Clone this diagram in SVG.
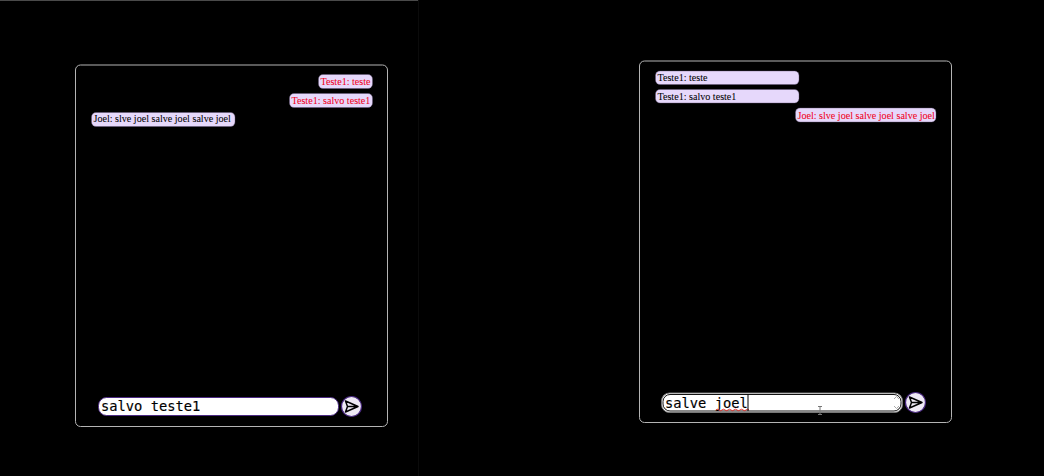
<svg xmlns="http://www.w3.org/2000/svg" width="1044" height="476" viewBox="0 0 1044 476">
<style>
.panel{fill:#000;stroke:#b4b4b4;stroke-width:1}
.bub{fill:#e6d8fb;stroke:#5f5075;stroke-width:.4}
.msg{font-family:"Liberation Serif",serif;font-size:10.1px;stroke-width:.05}
.in{fill:#000;stroke:#000}
.out{fill:#f00020;stroke:#f00020}
.mono{font-family:"DejaVu Sans Mono",monospace;font-size:13.75px;fill:#000;stroke:#000;stroke-width:.15}
.btn{fill:#efeaf5;stroke:#4b2a82;stroke-width:1.2}
.plane{fill:none;stroke:#000;stroke-width:1.5;stroke-linejoin:round}
</style>
<rect width="1044" height="476" fill="#000"/>
<rect x="0" y="0" width="418" height="1" fill="#4a4a4a"/>
<rect x="418" y="0" width="1" height="476" fill="#0b0b0b"/>
<g id="chat-left">
<rect class="panel" x="75.500" y="65" width="312" height="361.500" rx="5"/>
<g id="left-msg-1"><rect class="bub" x="318.500" y="74.500" width="54" height="14" rx="4.500"/><text class="msg out" x="320.500" y="85">Teste1: teste</text></g>
<g id="left-msg-2"><rect class="bub" x="289.500" y="93.500" width="83" height="14" rx="4.500"/><text class="msg out" x="291.500" y="104">Teste1: salvo teste1</text></g>
<g id="left-msg-3"><rect class="bub" x="91.500" y="112.500" width="143.500" height="14" rx="4.500"/><text class="msg in" x="93.500" y="122">Joel: slve joel salve joel salve joel</text></g>
<g id="left-input"><rect x="98.500" y="397.500" width="240" height="18" rx="8" fill="#fff" stroke="#4b2a82" stroke-width="1"/><text class="mono" x="101" y="411">salvo teste1</text></g>
<g id="left-send"><circle class="btn" cx="351.500" cy="406.500" r="10"/><path class="plane" d="M345.500 401 L358 406.500 L345.500 412 L347.500 406.500 Z M347.500 406.500 H358"/></g>
</g>
<g id="chat-right">
<rect class="panel" x="639.500" y="61" width="312" height="361.500" rx="5"/>
<g id="right-msg-1"><rect class="bub" x="655.500" y="71" width="143.500" height="13.500" rx="4.500"/><text class="msg in" x="657.500" y="81">Teste1: teste</text></g>
<g id="right-msg-2"><rect class="bub" x="655.500" y="89.500" width="143.500" height="13.500" rx="4.500"/><text class="msg in" x="657.500" y="100">Teste1: salvo teste1</text></g>
<g id="right-msg-3"><rect class="bub" x="795.500" y="108" width="140.500" height="14" rx="4.500"/><text class="msg out" x="797.500" y="119">Joel: slve joel salve joel salve joel</text></g>
<g id="right-input">
<rect x="661.500" y="393" width="241" height="19.500" rx="8" fill="#fff" stroke="#777" stroke-width="1"/>
<rect x="663" y="394.500" width="238" height="16.500" rx="7" fill="#fff" stroke="#111" stroke-width="1"/>
<text class="mono" x="665" y="408">salve joel</text>
<path d="M716 410 q1.500 -1.500 3 0 t3 0 t3 0 t3 0 t3 0 t3 0 t3 0 t3 0 t3 0 t3 0 t3 0" fill="none" stroke="#e0302a" stroke-width="1"/>
<rect x="747.500" y="394.500" width="1" height="16.500" fill="#000"/>
<path d="M894 399 L896.500 396.500 L899 399 M894 406 L896.500 408.500 L899 406" fill="none" stroke="#aaa" stroke-width="1"/>
<path d="M818 406.500 h4 M820 406.500 v8 M818 414.500 h4" fill="none" stroke="#777" stroke-width="1"/>
</g>
<g id="right-send"><circle class="btn" cx="915.500" cy="402.500" r="10"/><path class="plane" d="M909.500 397 L922 402.500 L909.500 408 L911.500 402.500 Z M911.500 402.500 H922"/></g>
</g>
</svg>
